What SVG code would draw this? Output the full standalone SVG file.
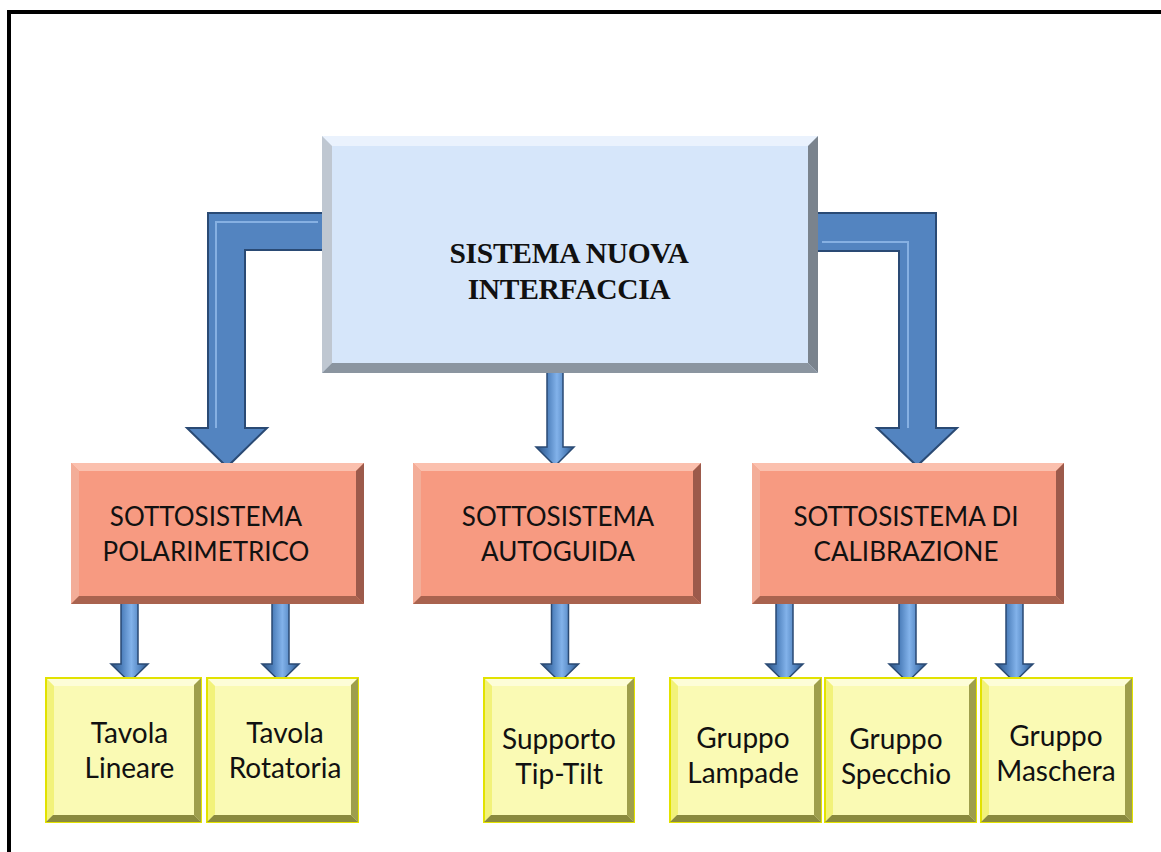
<svg xmlns="http://www.w3.org/2000/svg" width="1161" height="852" viewBox="0 0 1161 852">
<style>
.frame{fill:none;stroke:#000;stroke-width:4}
.title{font-family:"Liberation Serif","Times New Roman",serif;font-weight:bold;font-size:29.5px;fill:#111;text-anchor:middle;letter-spacing:-0.3px}
.lbl{font-family:Lato,"Open Sans",sans-serif;font-size:26px;fill:#111;text-anchor:middle}
.lbly{font-family:Lato,"Open Sans",sans-serif;font-size:28px;fill:#111;text-anchor:middle}
.big{fill:#5384c0;stroke:#2a4a74;stroke-width:2;stroke-linejoin:miter}
.bighl{fill:none;stroke:#86b0e2;stroke-width:2}
.sm{fill:url(#shaftGrad);stroke:#2a4a74;stroke-width:1.5}
.mb{fill:#d6e6fa}.mt{fill:#eaf2fd}.ml{fill:#bfc7d1}.mr{fill:#7a838d}.mbt{fill:#8b95a0}
.ob{fill:#f79a81}.ot{fill:#fbc0ae}.ol{fill:#f3ad98}.or{fill:#9c5a4b}.obt{fill:#a9634f}
.yb{fill:#fafab4;stroke:#e2e200;stroke-width:2}.yt{fill:#fdfdd8}.yl{fill:#f2f27a}.yr{fill:#9e9e4c}.ybt{fill:#8a8a3e}
</style>
<defs>
<linearGradient id="shaftGrad" x1="0" y1="0" x2="1" y2="0">
<stop offset="0" stop-color="#2c4f7c"/>
<stop offset="0.3" stop-color="#4f81bd"/>
<stop offset="0.55" stop-color="#82b2ea"/>
<stop offset="0.8" stop-color="#4f81bd"/>
<stop offset="1" stop-color="#2c4f7c"/>
</linearGradient>
<path id="smallArrow" d="M-8.5,0 H8.5 V61 H18.5 L0,79 L-18.5,61 H-8.5 Z"/>
</defs>
<rect x="0" y="0" width="1161" height="852" fill="#fff"/>
<path class="frame" d="M9,852 V12 H1161"/>

<g id="connectors">
<path class="big" d="M325,213 H208 V428 H187 L227,467 L267,428 H245 V250 H325 Z"/>
<path class="bighl" d="M318,222 H216 V428"/>
<path class="big" d="M815,213 H936 V428 H957 L917,466 L877,428 H899 V251 H815 Z"/>
<path class="bighl" d="M822,242 H908 V428"/>
<path class="sm" d="M547,368 H563 V447 H574 L555,466 L536,447 H547 Z"/>
<use href="#smallArrow" class="sm" transform="translate(129.5,603)"/>
<use href="#smallArrow" class="sm" transform="translate(280.5,603)"/>
<use href="#smallArrow" class="sm" transform="translate(560,603)"/>
<use href="#smallArrow" class="sm" transform="translate(784.5,603)"/>
<use href="#smallArrow" class="sm" transform="translate(907.5,603)"/>
<use href="#smallArrow" class="sm" transform="translate(1014.5,603)"/>
</g>

<g id="main">
<rect class="mb" x="322" y="136" width="496" height="237"/>
<polygon class="mt" points="322,136 818,136 808,146 332,146"/>
<polygon class="ml" points="322,136 332,146 332,363 322,373"/>
<polygon class="mr" points="818,136 818,373 808,363 808,146"/>
<polygon class="mbt" points="322,373 818,373 808,363 332,363"/>
<text class="title" x="569" y="263">SISTEMA NUOVA</text>
<text class="title" x="569" y="299">INTERFACCIA</text>
</g>

<g id="polarimetrico">
<rect class="ob" x="71" y="463" width="293" height="141"/>
<polygon class="ot" points="71,463 364,463 356,471 79,471"/>
<polygon class="ol" points="71,463 79,471 79,596 71,604"/>
<polygon class="or" points="364,463 364,604 356,596 356,471"/>
<polygon class="obt" points="71,604 364,604 356,596 79,596"/>
<text class="lbl" x="206" y="526">SOTTOSISTEMA</text>
<text class="lbl" x="206" y="561">POLARIMETRICO</text>
</g>

<g id="autoguida">
<rect class="ob" x="413" y="463" width="288" height="141"/>
<polygon class="ot" points="413,463 701,463 693,471 421,471"/>
<polygon class="ol" points="413,463 421,471 421,596 413,604"/>
<polygon class="or" points="701,463 701,604 693,596 693,471"/>
<polygon class="obt" points="413,604 701,604 693,596 421,596"/>
<text class="lbl" x="558" y="526">SOTTOSISTEMA</text>
<text class="lbl" x="558" y="561">AUTOGUIDA</text>
</g>

<g id="calibrazione">
<rect class="ob" x="752" y="463" width="312" height="141"/>
<polygon class="ot" points="752,463 1064,463 1056,471 760,471"/>
<polygon class="ol" points="752,463 760,471 760,596 752,604"/>
<polygon class="or" points="1064,463 1064,604 1056,596 1056,471"/>
<polygon class="obt" points="752,604 1064,604 1056,596 760,596"/>
<text class="lbl" x="906" y="526">SOTTOSISTEMA DI</text>
<text class="lbl" x="906" y="561">CALIBRAZIONE</text>
</g>

<g id="lineare">
<rect class="yb" x="46" y="678" width="155" height="144"/>
<polygon class="yt" points="47,679 200,679 193,686 54,686"/>
<polygon class="yl" points="47,679 54,686 54,814 47,821"/>
<polygon class="yr" points="201,678 201,822 194,815 194,685"/>
<polygon class="ybt" points="46,822 201,822 194,815 53,815"/>
<text class="lbly" x="129.5" y="743">Tavola</text>
<text class="lbly" x="129.5" y="778">Lineare</text>
</g>

<g id="rotatoria">
<rect class="yb" x="207" y="678" width="151" height="144"/>
<polygon class="yt" points="208,679 357,679 350,686 215,686"/>
<polygon class="yl" points="208,679 215,686 215,814 208,821"/>
<polygon class="yr" points="358,678 358,822 351,815 351,685"/>
<polygon class="ybt" points="207,822 358,822 351,815 214,815"/>
<text class="lbly" x="285" y="743">Tavola</text>
<text class="lbly" x="285" y="778">Rotatoria</text>
</g>

<g id="tiptilt">
<rect class="yb" x="484" y="678" width="150" height="144"/>
<polygon class="yt" points="485,679 633,679 626,686 492,686"/>
<polygon class="yl" points="485,679 492,686 492,814 485,821"/>
<polygon class="yr" points="634,678 634,822 627,815 627,685"/>
<polygon class="ybt" points="484,822 634,822 627,815 491,815"/>
<text class="lbly" x="559" y="749">Supporto</text>
<text class="lbly" x="559" y="784">Tip-Tilt</text>
</g>

<g id="lampade">
<rect class="yb" x="670" y="678" width="151" height="144"/>
<polygon class="yt" points="671,679 820,679 813,686 678,686"/>
<polygon class="yl" points="671,679 678,686 678,814 671,821"/>
<polygon class="yr" points="821,678 821,822 814,815 814,685"/>
<polygon class="ybt" points="670,822 821,822 814,815 677,815"/>
<text class="lbly" x="743" y="748">Gruppo</text>
<text class="lbly" x="743" y="783">Lampade</text>
</g>

<g id="specchio">
<rect class="yb" x="825" y="678" width="151" height="144"/>
<polygon class="yt" points="826,679 975,679 968,686 833,686"/>
<polygon class="yl" points="826,679 833,686 833,814 826,821"/>
<polygon class="yr" points="976,678 976,822 969,815 969,685"/>
<polygon class="ybt" points="825,822 976,822 969,815 832,815"/>
<text class="lbly" x="896" y="749">Gruppo</text>
<text class="lbly" x="896" y="784">Specchio</text>
</g>

<g id="maschera">
<rect class="yb" x="981" y="678" width="151" height="144"/>
<polygon class="yt" points="982,679 1131,679 1124,686 989,686"/>
<polygon class="yl" points="982,679 989,686 989,814 982,821"/>
<polygon class="yr" points="1132,678 1132,822 1125,815 1125,685"/>
<polygon class="ybt" points="981,822 1132,822 1125,815 988,815"/>
<text class="lbly" x="1056" y="746">Gruppo</text>
<text class="lbly" x="1056" y="781">Maschera</text>
</g>
</svg>
